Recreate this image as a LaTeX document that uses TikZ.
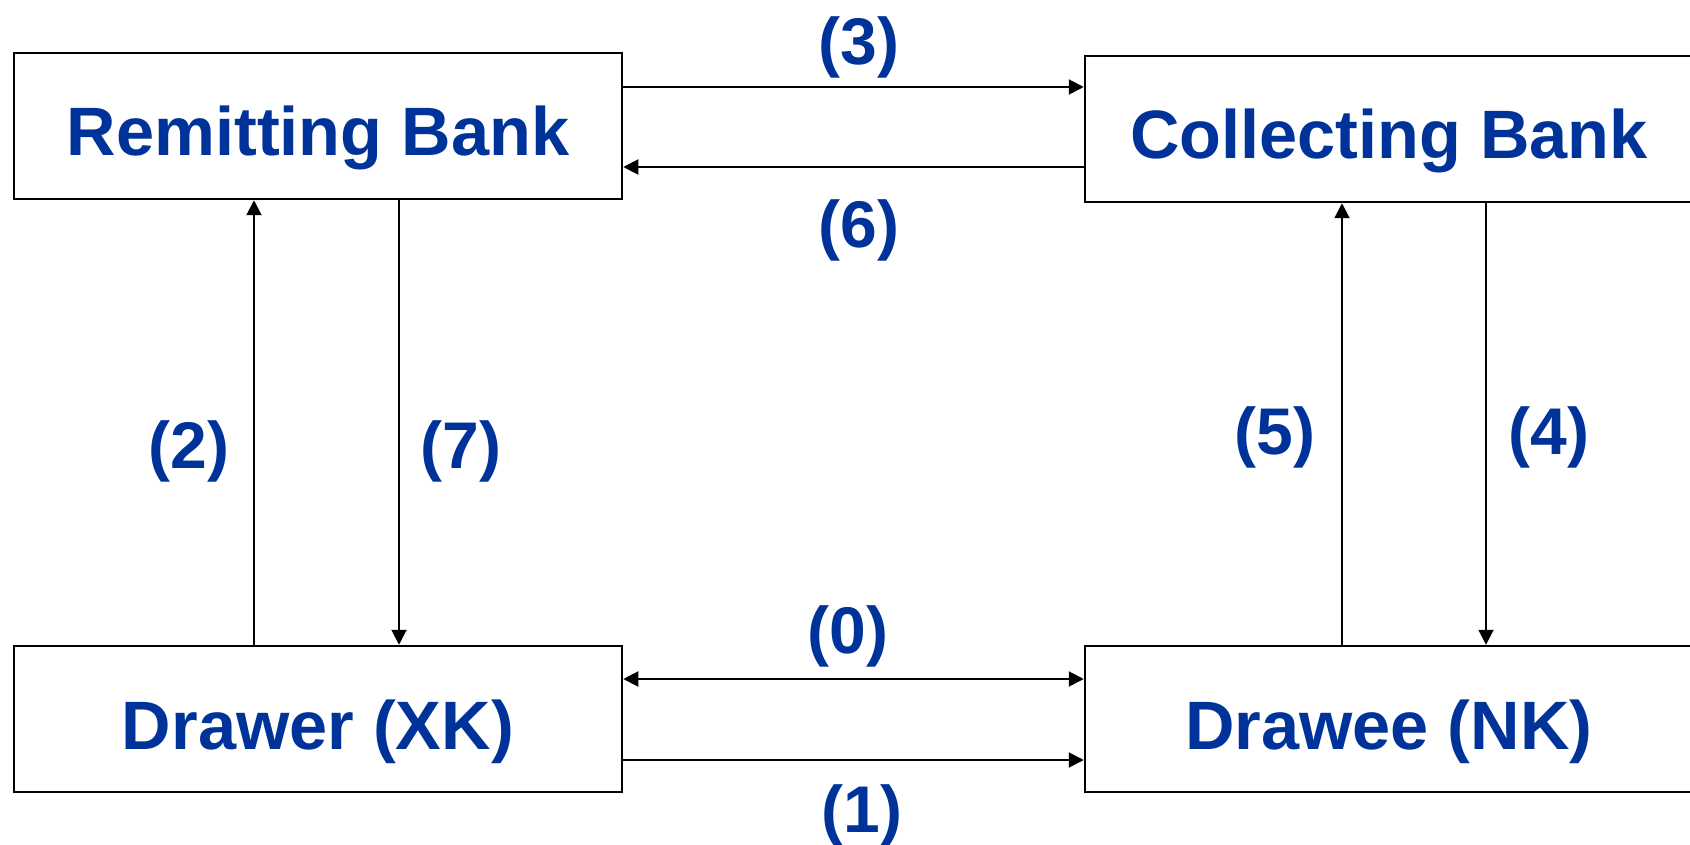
\documentclass[tikz,border=0pt]{standalone}
\usepackage{fontspec}
\setmainfont{Liberation Sans}
\usetikzlibrary{arrows.meta}
\definecolor{txtblue}{RGB}{0,51,153}
\tikzset{
  boxnode/.style={draw=black, line width=2.5pt, rectangle, minimum width=608pt, minimum height=146pt, inner sep=0pt,
    text height=60pt, text depth=0pt,
    text=txtblue, font=\fontsize{68.5}{80}\selectfont\bfseries},
  lbl/.style={text=txtblue, font=\fontsize{66}{78}\selectfont\bfseries, inner sep=0pt},
  arr/.style={line width=2pt, -{Triangle[length=15pt,width=15pt]}},
  darr/.style={line width=2pt, {Triangle[length=15pt,width=15pt]}-{Triangle[length=15pt,width=15pt]}}
}
\begin{document}
\begin{tikzpicture}[x=1pt,y=-1pt]
\useasboundingbox (0,0) rectangle (1690,845);
\clip (0,0) rectangle (1690,845);
\node[boxnode] (remit) at (318,126) {Remitting Bank};
\node[boxnode] (coll) at (1389,129) {Collecting Bank};
\node[boxnode] (drawer) at (318,719) {Drawer (XK)};
\node[boxnode] (drawee) at (1389,719) {Drawee (NK)};
% horizontal connectors
\draw[arr] (remit.east |- 0,87) -- (coll.west |- 0,87);
\draw[arr] (coll.west |- 0,167) -- (remit.east |- 0,167);
\draw[darr] (drawer.east |- 0,679) -- (drawee.west |- 0,679);
\draw[arr] (drawer.east |- 0,760) -- (drawee.west |- 0,760);
% vertical connectors
\draw[arr] (drawer.north -| 254,0) -- (remit.south -| 254,0);
\draw[arr] (remit.south -| 399,0) -- (drawer.north -| 399,0);
\draw[arr] (drawee.north -| 1342,0) -- (coll.south -| 1342,0);
\draw[arr] (coll.south -| 1486,0) -- (drawee.north -| 1486,0);
% labels
\node[lbl] (l3) at (859,47) {(3)};
\node[lbl] (l6) at (859,230) {(6)};
\node[lbl] (l2) at (189,451) {(2)};
\node[lbl] (l7) at (461,451) {(7)};
\node[lbl] (l5) at (1275,437) {(5)};
\node[lbl] (l4) at (1549,437) {(4)};
\node[lbl] (l0) at (848,636) {(0)};
\node[lbl] (l1) at (862,815) {(1)};
\end{tikzpicture}
\end{document}
